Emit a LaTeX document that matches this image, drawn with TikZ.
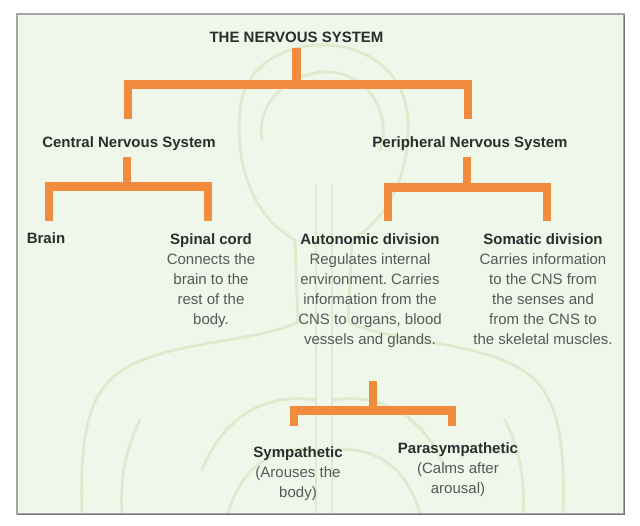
\documentclass[tikz,border=0pt]{standalone}
\usepackage{fontspec}
\setmainfont{Liberation Sans}
\frenchspacing
\definecolor{orangebar}{RGB}{241,139,62}
\definecolor{panel}{RGB}{239,246,234}
\definecolor{faint}{RGB}{222,234,205}
\definecolor{headtext}{RGB}{45,45,45}
\definecolor{desctext}{RGB}{88,88,88}
\begin{document}
\begin{tikzpicture}[x=1pt,y=-1pt,
    bracket/.style={draw=orangebar,line width=8.5pt,line join=miter},
    faintline/.style={draw=faint,line width=2.8pt,line cap=round},
    head/.style={inner sep=0pt,text=headtext,font=\bfseries\fontsize{15pt}{20pt}\selectfont},
    label/.style={inner sep=0pt,align=center,text=desctext,font=\fontsize{15pt}{20pt}\selectfont}]
  \useasboundingbox (0,0) rectangle (640,525);
  \fill[white] (0,0) rectangle (640,525);
  \fill[panel] (17,14) rectangle (624,514);
  % faint body behind the chart
  \begin{scope}[faintline]
    \draw (295,240) .. controls (250,215) and (235,160) .. (240,110)
      .. controls (245,62) and (288,45) .. (322,45)
      .. controls (365,45) and (405,70) .. (408,120)
      .. controls (410,170) and (392,215) .. (352,240);
    \draw (262,140) .. controls (255,95) and (300,70) .. (330,72)
      .. controls (370,75) and (392,115) .. (380,150);
    \draw (295,240) -- (298,322);
    \draw (352,240) -- (348,322);
    \draw (298,322) .. controls (250,345) and (150,340) .. (110,380)
      .. controls (85,405) and (80,450) .. (82,514);
    \draw (348,322) .. controls (395,345) and (495,340) .. (535,380)
      .. controls (560,405) and (565,450) .. (563,514);
    \draw (140,420) .. controls (125,450) and (120,480) .. (122,514);
    \draw (505,420) .. controls (520,450) and (525,480) .. (523,514);
    \draw[line width=1.5pt] (316,185) -- (316,514);
    \draw[line width=1.5pt] (332,185) -- (332,514);
    \draw (316,400) .. controls (262,392) and (222,420) .. (202,470);
    \draw (316,450) .. controls (270,445) and (240,470) .. (228,514);
    \draw (332,400) .. controls (386,392) and (426,420) .. (446,470);
    \draw (332,450) .. controls (378,445) and (408,470) .. (420,514);
  \end{scope}
  \draw[gray!70,line width=1.2pt] (17,14) rectangle (624,514);
  \draw[gray!90!black,line width=1.2pt] (624.5,15) -- (624.5,514.5) -- (18,514.5);
  % labels
  \node[head,anchor=north] (nvs) at (296.5,32.3) {THE NERVOUS SYSTEM};
  \node[head,anchor=north] (cns) at (129,136.3) {Central Nervous System};
  \node[head,anchor=north] (pns) at (470,136.3) {Peripheral Nervous System};
  \node[head,anchor=north] (brain) at (46,232.3) {Brain};
  \node[label,anchor=north] (spinal) at (211,233.3) {\textcolor{headtext}{\bfseries Spinal cord}\\Connects the\\brain to the\\rest of the\\body.};
  \node[label,anchor=north] (auto) at (370,233.3) {\textcolor{headtext}{\bfseries Autonomic division}\\Regulates internal\\environment. Carries\\information from the\\CNS to organs, blood\\vessels and glands.};
  \node[label,anchor=north] (soma) at (543,233.3) {\textcolor{headtext}{\bfseries Somatic division}\\Carries information\\to the CNS from\\the senses and\\from the CNS to\\the skeletal muscles.};
  \node[label,anchor=north] (symp) at (298,446) {\textcolor{headtext}{\bfseries Sympathetic}\\(Arouses the\\body)};
  \node[label,anchor=north] (para) at (458,442) {\textcolor{headtext}{\bfseries Parasympathetic}\\(Calms after\\arousal)};
  % brackets
  \draw[bracket] ([yshift=-5pt]nvs.south) -- ++(0,36) coordinate (nvsbar);
  \draw[bracket] ([xshift=-1pt,yshift=17pt]cns.north) |- (nvsbar) -| ([xshift=-2pt,yshift=17pt]pns.north);
  \draw[bracket] ([xshift=-2pt,yshift=-6pt]cns.south) -- ++(0,30) coordinate (cnsbar);
  \draw[bracket] ([xshift=3pt,yshift=11pt]brain.north) |- (cnsbar) -| ([xshift=-3pt,yshift=12pt]spinal.north);
  \draw[bracket] ([xshift=-3pt,yshift=-6pt]pns.south) -- ++(0,31) coordinate (pnsbar);
  \draw[bracket] ([xshift=18pt,yshift=12pt]auto.north) |- (pnsbar) -| ([xshift=4pt,yshift=12pt]soma.north);
  \draw[bracket] ([xshift=3pt,yshift=-33pt]auto.south) -- ++(0,30) coordinate (autobar);
  \draw[bracket] ([xshift=-4pt,yshift=20pt]symp.north) |- (autobar) -| ([xshift=-6pt,yshift=16pt]para.north);
\end{tikzpicture}
\end{document}
